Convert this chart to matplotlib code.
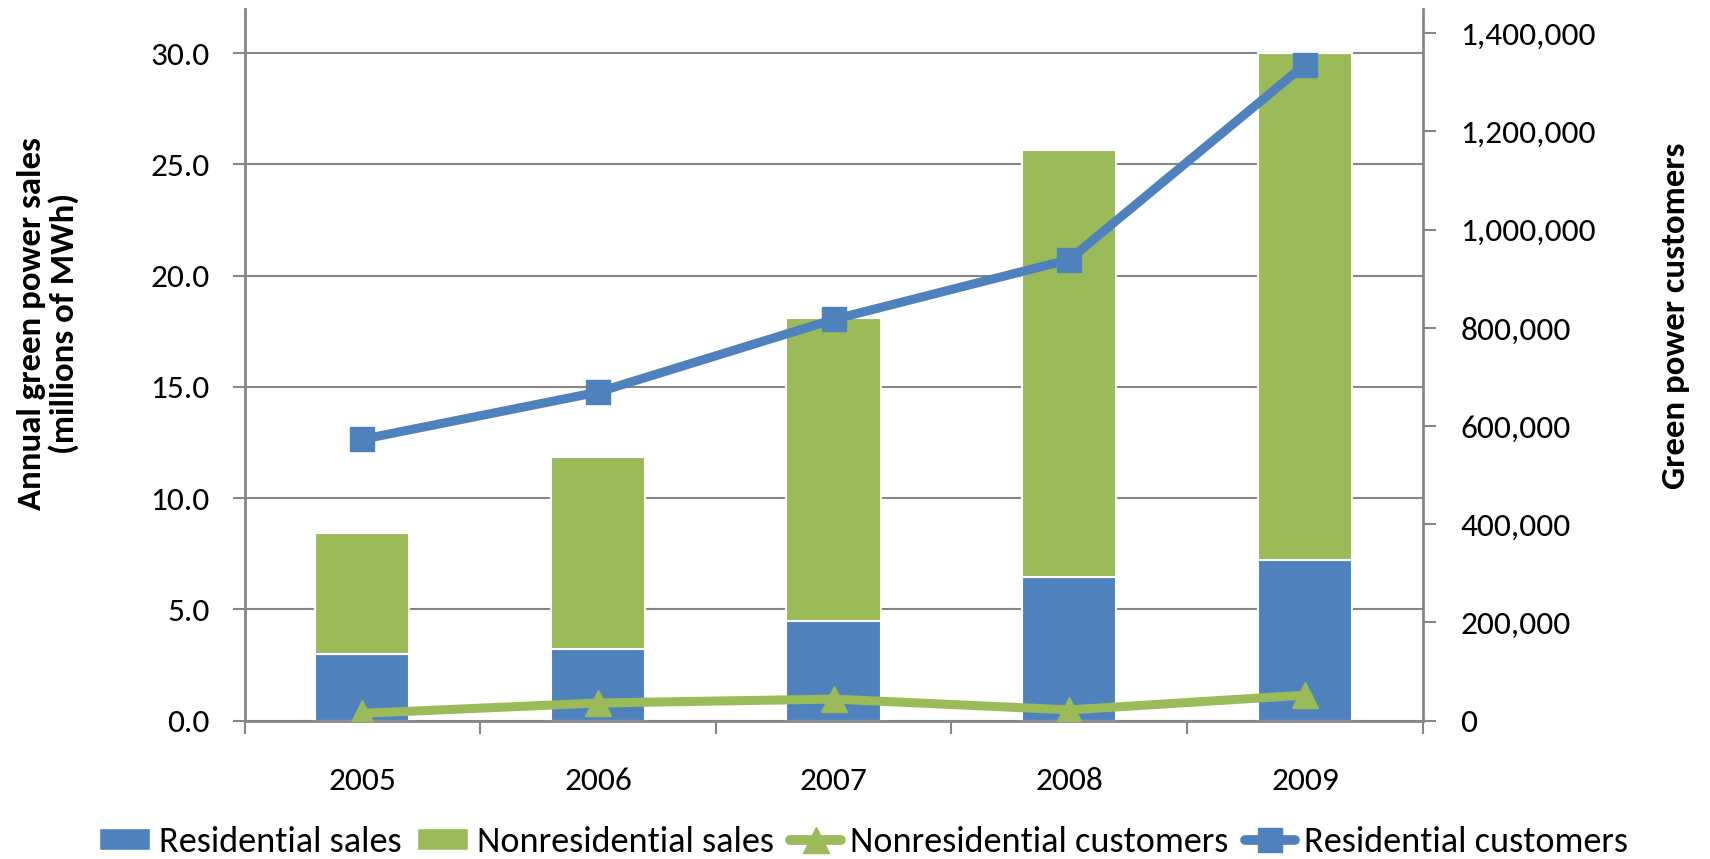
import numpy as np
import matplotlib
matplotlib.use('Agg')
import matplotlib.pyplot as plt
from matplotlib.ticker import FuncFormatter, FixedLocator
from matplotlib.lines import Line2D
from matplotlib.patches import Patch

# Data
years = ['2005', '2006', '2007', '2008', '2009']
residential_sales = [3.0, 3.2, 4.5, 6.45, 7.2]           # millions of MWh
nonresidential_sales = [5.45, 8.65, 13.6, 19.2, 22.8]    # millions of MWh
residential_customers = [573000, 669000, 817000, 939000, 1336000]
nonresidential_customers = [15000, 36000, 44000, 22000, 52000]

blue = '#4F81BD'
green = '#9BBB59'
grey = '#868686'
plt.rcParams['font.family'] = ['Carlito', 'Lato', 'DejaVu Sans']

fig = plt.figure(figsize=(17.1, 8.59), dpi=100)
ax = fig.add_axes([0.143, 0.161, 0.689, 0.829])
x = np.arange(len(years))

ax.bar(x, residential_sales, width=0.4, color=blue, edgecolor='white', linewidth=1.5, zorder=2)
ax.bar(x, nonresidential_sales, width=0.4, bottom=residential_sales, color=green,
       edgecolor='white', linewidth=1.5, zorder=2)

ax.set_xlim(-0.5, 4.5)
ax.set_ylim(0, 32)
ax.set_yticks(np.arange(0, 30.1, 5))
ax.yaxis.set_major_formatter(FuncFormatter(lambda v, p: f'{v:.1f}'))
ax.grid(axis='y', color=grey, linewidth=1.5, zorder=0)
ax.set_axisbelow(True)

ax.set_xticks(x)
ax.set_xticklabels(years)
ax.xaxis.set_minor_locator(FixedLocator(np.arange(-0.5, 4.6, 1)))
ax.tick_params(axis='x', which='major', length=0, pad=33, labelsize=24)
ax.tick_params(axis='x', which='minor', length=9, width=1.5, color=grey, direction='out')
ax.tick_params(axis='y', length=9, width=1.5, color=grey, direction='out', pad=16, labelsize=24)

for side in ['top', 'right']:
    ax.spines[side].set_visible(False)
for side in ['left', 'bottom']:
    ax.spines[side].set_color(grey)
    ax.spines[side].set_linewidth(2)

ax2 = ax.twinx()
ax2.plot(x, nonresidential_customers, color=green, linewidth=6.5, marker='^',
         markersize=19, zorder=3)
ax2.plot(x, residential_customers, color=blue, linewidth=6.5, marker='s',
         markersize=17, zorder=4)
ax2.set_ylim(0, 1450000)
ax2.set_yticks(np.arange(0, 1400001, 200000))
ax2.yaxis.set_major_formatter(FuncFormatter(lambda v, p: f'{int(v):,}'))
ax2.tick_params(axis='y', length=9, width=1.5, color=grey, direction='out', pad=18, labelsize=24)
for side in ['top', 'left', 'bottom']:
    ax2.spines[side].set_visible(False)
ax2.spines['right'].set_color(grey)
ax2.spines['right'].set_linewidth(2)

# axis titles
fig.text(0.028, 0.623, 'Annual green power sales\n(millions of MWh)', rotation=90,
         ha='center', va='center', fontweight='bold', fontsize=25, linespacing=1.1)
fig.text(0.980, 0.632, 'Green power customers', rotation=90,
         ha='center', va='center', fontweight='bold', fontsize=25)

handles = [
    Patch(facecolor=blue, edgecolor='white'),
    Patch(facecolor=green, edgecolor='white'),
    Line2D([], [], color=green, linewidth=7, marker='^', markersize=19,
           solid_capstyle='round'),
    Line2D([], [], color=blue, linewidth=7, marker='s', markersize=17,
           solid_capstyle='round'),
]
labels = ['Residential sales', 'Nonresidential sales', 'Nonresidential customers',
          'Residential customers']
fig.legend(handles, labels, loc='center', bbox_to_anchor=(0.505, 0.02), ncol=4,
           frameon=False, fontsize=26, handlelength=1.4, handleheight=0.55,
           handletextpad=0.25, columnspacing=0.45)

fig.savefig('out.png', dpi=100)
